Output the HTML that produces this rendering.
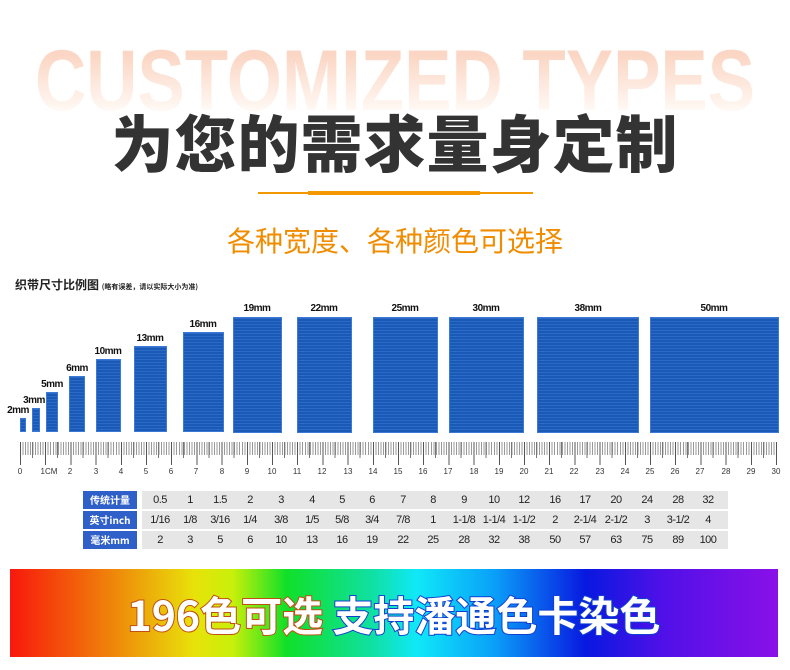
<!DOCTYPE html>
<html><head><meta charset="utf-8"><style>
*{margin:0;padding:0;box-sizing:border-box}
body{width:790px;height:670px;background:#fff;position:relative;overflow:hidden;font-family:"Liberation Sans","Noto Sans CJK SC",sans-serif}
.a{position:absolute}
.ghost{left:-100px;width:990px;top:38px;text-align:center;font-size:86px;font-weight:bold;line-height:86px;white-space:nowrap;transform:scaleX(0.825);background:linear-gradient(#fbd6c4 20%,#fff9f5 85%);-webkit-background-clip:text;color:transparent}
.title{left:0;width:790px;top:104px;text-align:center;font-size:62px;font-weight:900;color:#333;line-height:72px;font-family:"Noto Sans CJK SC",sans-serif;letter-spacing:1px}
.sub{left:0;width:790px;top:222px;text-align:center;font-size:28px;color:#f08c00;line-height:36px;font-family:"Noto Sans CJK SC",sans-serif}
.bar{background:#1c5fc2 repeating-linear-gradient(180deg,rgba(255,255,255,.07) 0 1px,rgba(0,0,0,.06) 1px 3px);border:1px solid #3a7ad6}
.lb{font-size:10px;font-weight:bold;color:#111;text-align:center;width:60px;letter-spacing:-.5px}
.tk{font-size:8px;color:#333;width:16px;text-align:center;top:467px}
.row{position:absolute;left:83px;height:18px;display:flex}
.h{width:54px;background:#2f5fc8;color:#fff;font-size:10px;font-weight:bold;text-align:center;line-height:18px;font-family:"Noto Sans CJK SC",sans-serif}
.g{position:absolute;left:59px;width:586px;height:18px;background:#e6e6e6}
.v{position:absolute;font-size:11px;color:#222;width:30px;text-align:center;line-height:18px;letter-spacing:-.5px}
.rb{left:10px;top:569px;width:768px;height:88px;background:linear-gradient(90deg,#f8180c 0%,#f07a0a 12%,#e8e20a 24%,#c8f00a 29%,#10e028 36%,#10e0a0 47%,#10e8f8 53%,#0aa0f8 63%,#0818e0 75%,#5010e8 85%,#8a10e8 100%)}
.rt{left:10px;width:768px;top:585px;text-align:center;font-size:41px;line-height:56px;color:#fff;font-family:"Noto Sans CJK SC",sans-serif;font-weight:bold}
</style></head><body>
<div class="a ghost">CUSTOMIZED TYPES</div>
<div class="a title">为您的需求量身定制</div>
<div class="a" style="left:258px;top:192px;width:275px;height:2px;background:#f39800"></div>
<div class="a" style="left:308px;top:191px;width:172px;height:4px;background:#f39800"></div>
<div class="a sub">各种宽度、各种颜色可选择</div>
<div class="a" style="left:15px;top:276px;font-size:12px;font-weight:bold;color:#222;font-family:'Noto Sans CJK SC',sans-serif">织带尺寸比例图 <span style="font-size:7px">(略有误差，请以实际大小为准)</span></div>

<div class="a bar" style="left:20px;top:418px;width:6px;height:14px"></div><div class="a lb" style="left:-12px;top:405px">2mm</div>
<div class="a bar" style="left:32px;top:408px;width:8px;height:24px"></div><div class="a lb" style="left:4px;top:395px">3mm</div>
<div class="a bar" style="left:46px;top:392px;width:12px;height:40px"></div><div class="a lb" style="left:22px;top:379px">5mm</div>
<div class="a bar" style="left:69px;top:376px;width:16px;height:56px"></div><div class="a lb" style="left:47px;top:363px">6mm</div>
<div class="a bar" style="left:96px;top:359px;width:25px;height:73px"></div><div class="a lb" style="left:78px;top:346px">10mm</div>
<div class="a bar" style="left:134px;top:346px;width:33px;height:86px"></div><div class="a lb" style="left:120px;top:333px">13mm</div>
<div class="a bar" style="left:183px;top:332px;width:41px;height:100px"></div><div class="a lb" style="left:173px;top:319px">16mm</div>
<div class="a bar" style="left:233px;top:317px;width:49px;height:116px"></div><div class="a lb" style="left:227px;top:303px">19mm</div>
<div class="a bar" style="left:297px;top:317px;width:55px;height:116px"></div><div class="a lb" style="left:294px;top:303px">22mm</div>
<div class="a bar" style="left:373px;top:317px;width:65px;height:116px"></div><div class="a lb" style="left:375px;top:303px">25mm</div>
<div class="a bar" style="left:449px;top:317px;width:75px;height:116px"></div><div class="a lb" style="left:456px;top:303px">30mm</div>
<div class="a bar" style="left:537px;top:317px;width:102px;height:116px"></div><div class="a lb" style="left:558px;top:303px">38mm</div>
<div class="a bar" style="left:650px;top:317px;width:129px;height:116px"></div><div class="a lb" style="left:684px;top:303px">50mm</div>

<div class="a" style="left:19.5px;top:442px;width:758px;height:13px;background:repeating-linear-gradient(90deg,#999 0 1px,transparent 1px 2.52px)"></div>
<div class="a" style="left:32px;top:442px;width:746px;height:16px;background:repeating-linear-gradient(90deg,#777 0 1px,transparent 1px 25.2px)"></div>
<div class="a" style="left:19.5px;top:442px;width:758px;height:23px;background:repeating-linear-gradient(90deg,#555 0 1px,transparent 1px 25.2px)"></div>
<div class="a tk" style="left:12px">0</div><div class="a tk" style="left:39px;width:20px">1CM</div><div class="a tk" style="left:62px">2</div><div class="a tk" style="left:88px">3</div><div class="a tk" style="left:113px">4</div><div class="a tk" style="left:138px">5</div><div class="a tk" style="left:163px">6</div><div class="a tk" style="left:188px">7</div><div class="a tk" style="left:214px">8</div><div class="a tk" style="left:239px">9</div><div class="a tk" style="left:264px">10</div><div class="a tk" style="left:289px">11</div><div class="a tk" style="left:314px">12</div><div class="a tk" style="left:340px">13</div><div class="a tk" style="left:365px">14</div><div class="a tk" style="left:390px">15</div><div class="a tk" style="left:415px">16</div><div class="a tk" style="left:440px">17</div><div class="a tk" style="left:466px">18</div><div class="a tk" style="left:491px">19</div><div class="a tk" style="left:516px">20</div><div class="a tk" style="left:541px">21</div><div class="a tk" style="left:566px">22</div><div class="a tk" style="left:592px">23</div><div class="a tk" style="left:617px">24</div><div class="a tk" style="left:642px">25</div><div class="a tk" style="left:667px">26</div><div class="a tk" style="left:692px">27</div><div class="a tk" style="left:718px">28</div><div class="a tk" style="left:743px">29</div><div class="a tk" style="left:768px">30</div>

<div class="row" style="top:491px"><div class="h">传统计量</div><div class="g">
<span class="v" style="left:3px">0.5</span><span class="v" style="left:33px">1</span><span class="v" style="left:63px">1.5</span><span class="v" style="left:93px">2</span><span class="v" style="left:124px">3</span><span class="v" style="left:155px">4</span><span class="v" style="left:185px">5</span><span class="v" style="left:215px">6</span><span class="v" style="left:246px">7</span><span class="v" style="left:276px">8</span><span class="v" style="left:307px">9</span><span class="v" style="left:337px">10</span><span class="v" style="left:367px">12</span><span class="v" style="left:398px">16</span><span class="v" style="left:428px">17</span><span class="v" style="left:459px">20</span><span class="v" style="left:490px">24</span><span class="v" style="left:521px">28</span><span class="v" style="left:551px">32</span></div></div>
<div class="row" style="top:511px"><div class="h">英寸inch</div><div class="g">
<span class="v" style="left:3px">1/16</span><span class="v" style="left:33px">1/8</span><span class="v" style="left:63px">3/16</span><span class="v" style="left:93px">1/4</span><span class="v" style="left:124px">3/8</span><span class="v" style="left:155px">1/5</span><span class="v" style="left:185px">5/8</span><span class="v" style="left:215px">3/4</span><span class="v" style="left:246px">7/8</span><span class="v" style="left:276px">1</span><span class="v" style="left:302px;width:40px">1-1/8</span><span class="v" style="left:332px;width:40px">1-1/4</span><span class="v" style="left:362px;width:40px">1-1/2</span><span class="v" style="left:398px">2</span><span class="v" style="left:423px;width:40px">2-1/4</span><span class="v" style="left:454px;width:40px">2-1/2</span><span class="v" style="left:490px">3</span><span class="v" style="left:516px;width:40px">3-1/2</span><span class="v" style="left:551px">4</span></div></div>
<div class="row" style="top:531px"><div class="h">毫米mm</div><div class="g">
<span class="v" style="left:3px">2</span><span class="v" style="left:33px">3</span><span class="v" style="left:63px">5</span><span class="v" style="left:93px">6</span><span class="v" style="left:124px">10</span><span class="v" style="left:155px">13</span><span class="v" style="left:185px">16</span><span class="v" style="left:215px">19</span><span class="v" style="left:246px">22</span><span class="v" style="left:276px">25</span><span class="v" style="left:307px">28</span><span class="v" style="left:337px">32</span><span class="v" style="left:367px">38</span><span class="v" style="left:398px">50</span><span class="v" style="left:428px">57</span><span class="v" style="left:459px">63</span><span class="v" style="left:490px">75</span><span class="v" style="left:521px">89</span><span class="v" style="left:551px">100</span></div></div>

<div class="a rb"></div>
<div class="a rt"><span style="-webkit-text-stroke:2px #c05010;paint-order:stroke fill">196色可选</span>&nbsp;<span style="-webkit-text-stroke:2px #1040d0;paint-order:stroke fill">支持潘通色卡染色</span></div>
</body></html>
